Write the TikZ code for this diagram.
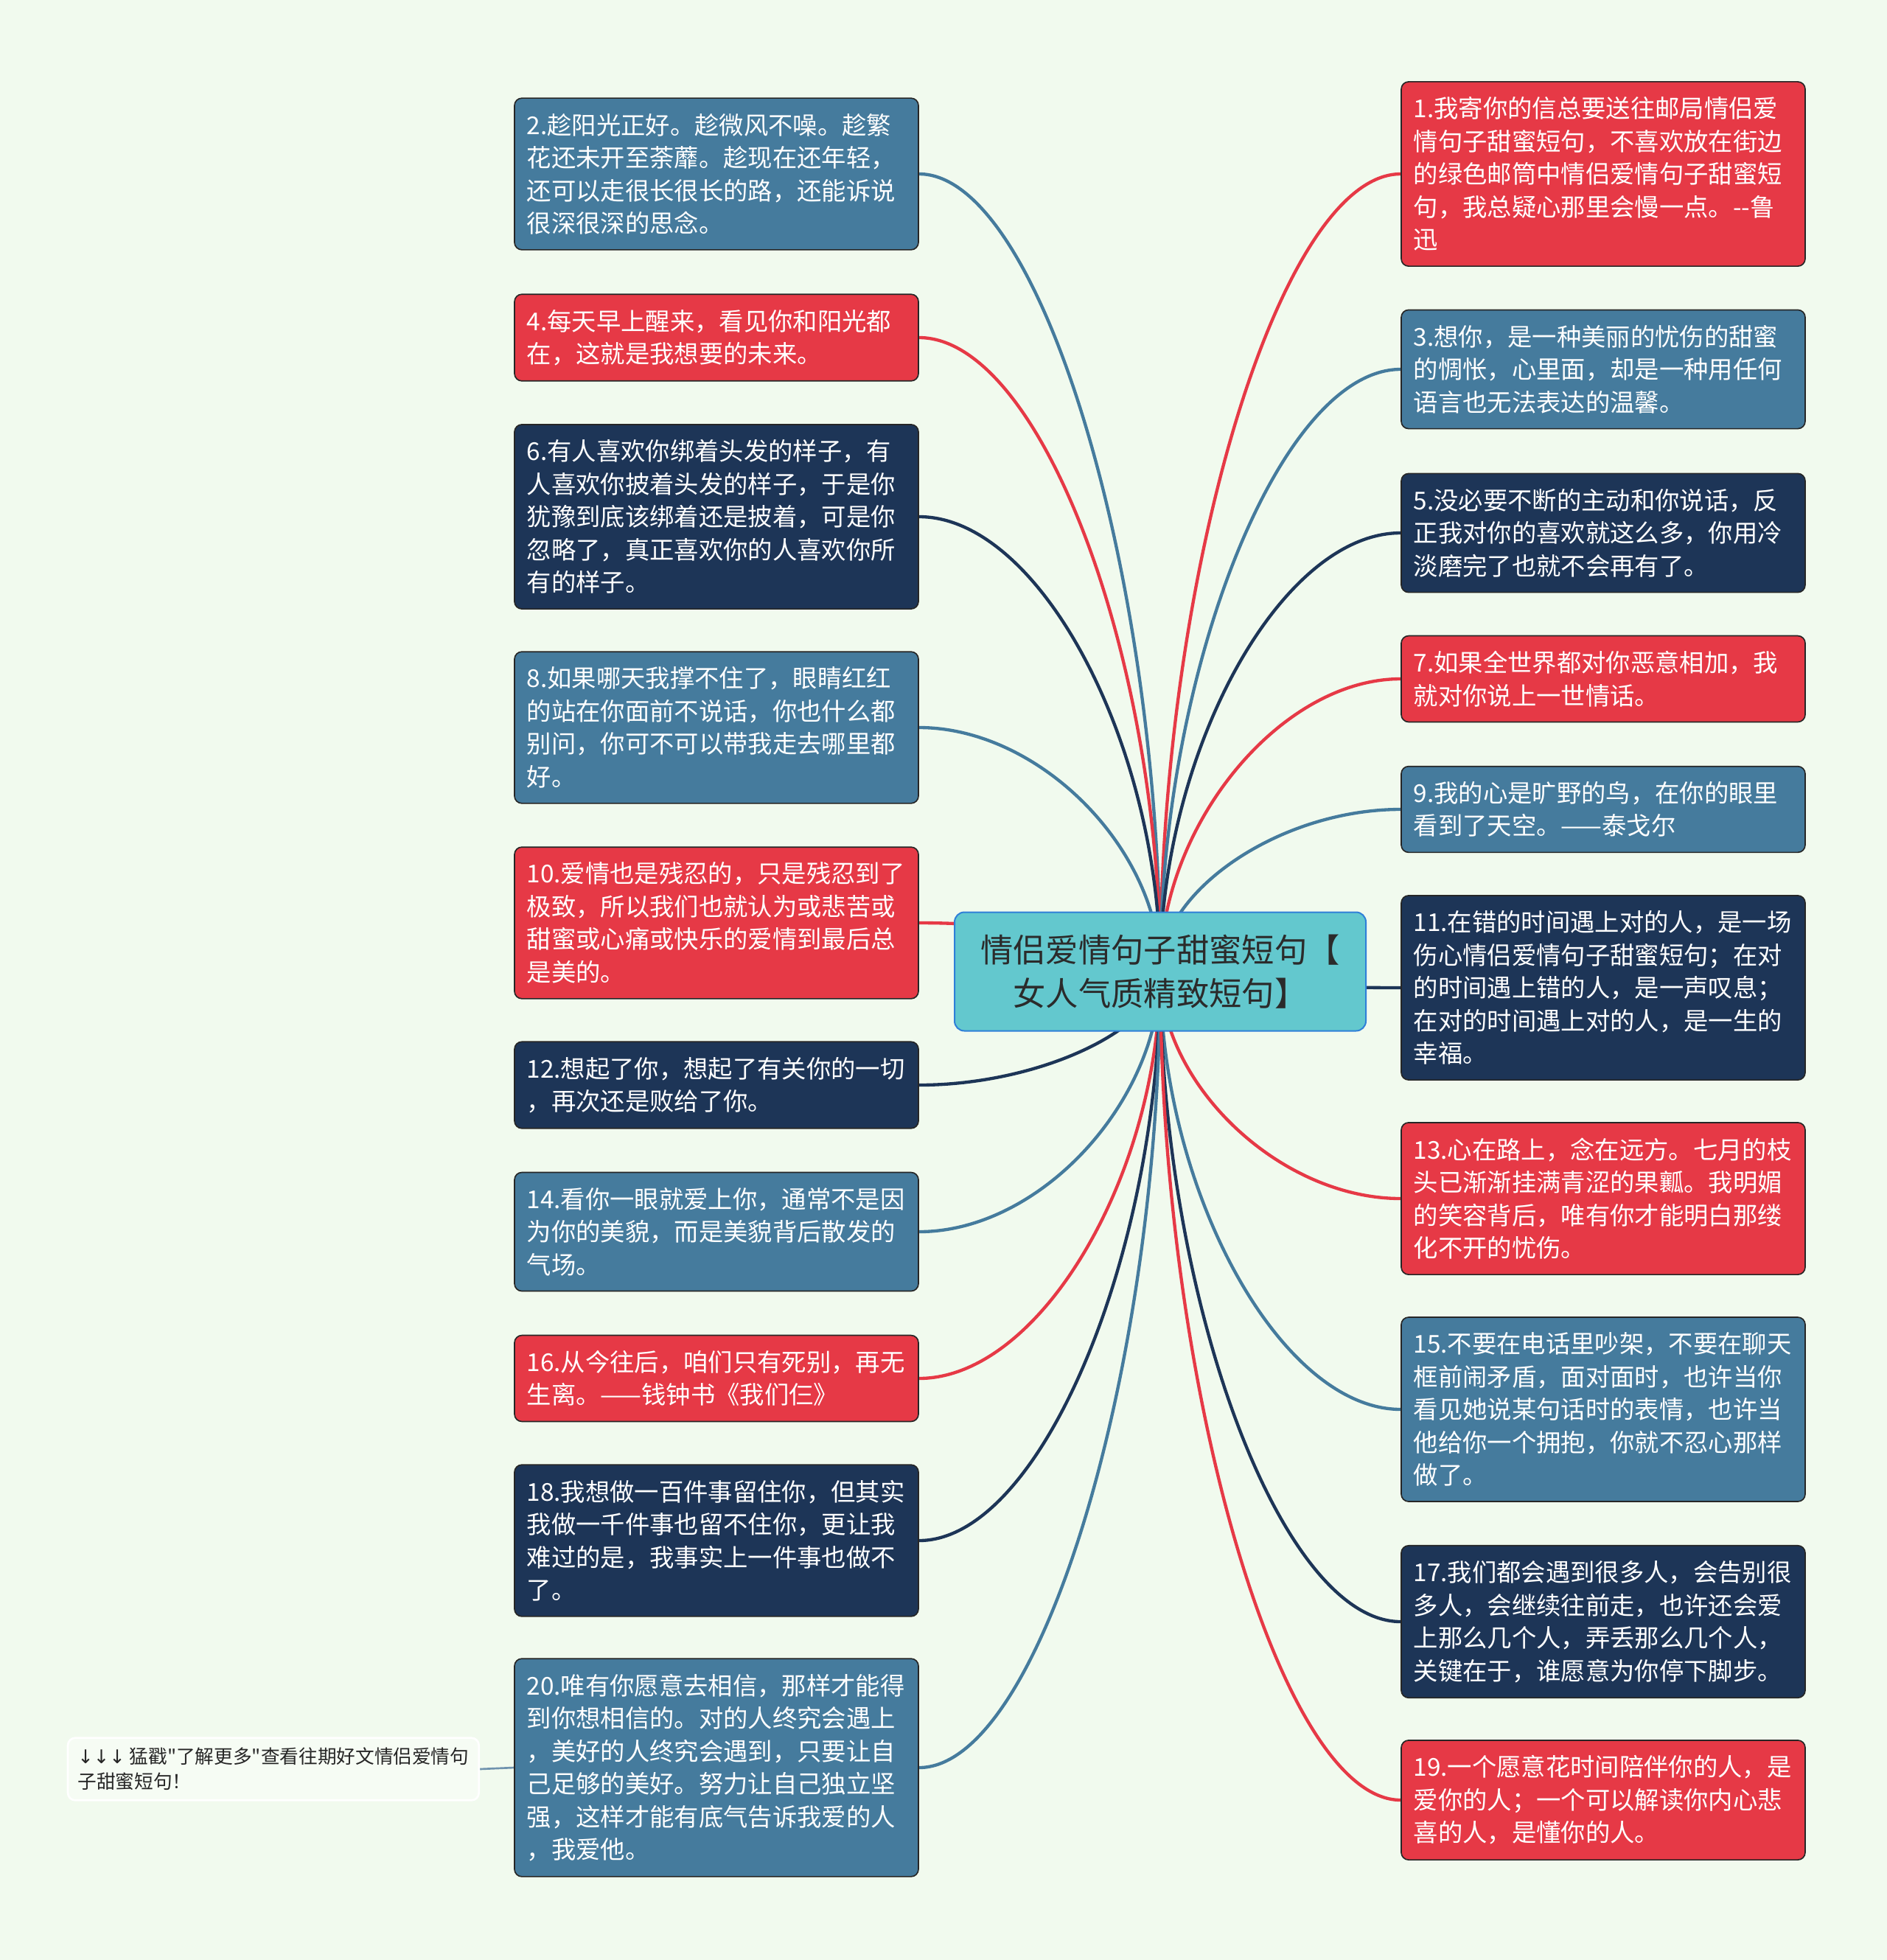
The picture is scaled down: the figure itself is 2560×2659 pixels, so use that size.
\documentclass[tikz,border=0pt]{standalone}
\usepackage{fontspec}
\setmainfont{Noto Sans CJK SC}
\setmonofont{Noto Sans CJK SC}
\newfontfamily\arrowfont{DejaVu Sans}
\usetikzlibrary{calc,backgrounds}
\definecolor{bgmint}{HTML}{F1FAEE}
\definecolor{loveRed}{HTML}{E63946}
\definecolor{loveBlue}{HTML}{457B9D}
\definecolor{loveNavy}{HTML}{1D3557}
\definecolor{hubTeal}{HTML}{63C8CE}
\definecolor{hubEdge}{HTML}{2F7FD8}
\definecolor{hubText}{HTML}{2B2B2B}
\definecolor{noteLine}{HTML}{6F93AE}
\tikzset{
	quotebox/.style={draw=black!85, line width=0.5pt, rounded corners=3pt, fill=#1,
		text=white, text width=154.4pt, align=left, inner xsep=5pt, inner ysep=6.2pt,
		font=\fontsize{10}{13.35}\selectfont},
	hubbox/.style={draw=hubEdge, line width=0.6pt, rounded corners=4pt, fill=hubTeal,
		text=hubText, align=center, minimum width=167.4pt, minimum height=48.3pt,
		font=\fontsize{13.3}{17.8}\selectfont},
	notebox/.style={draw=white, line width=0.8pt, rounded corners=3pt, fill=white!35!bgmint,
		text=black!85, align=left, inner xsep=4pt, inner ysep=4pt,
		font=\ttfamily\fontsize{7.7}{10.2}\selectfont},
	branch/.style={line width=1.3pt, draw=#1},
}
\begin{document}
\begin{tikzpicture}[x=0.3pt,y=0.3pt]
	\useasboundingbox (0,0) rectangle (2560,-2659);
	%Central topic
	\node[hubbox] (hub) at (1574,-1318) {情侣爱情句子甜蜜短句【\\女人气质精致短句】};
	%Left column
	\node[quotebox=loveBlue] (b2) at (972,-236) {2.趁阳光正好。趁微风不噪。趁繁\\花还未开至荼蘼。趁现在还年轻，\\还可以走很长很长的路，还能诉说\\很深很深的思念。};
	\node[quotebox=loveRed] (b4) at (972,-458) {4.每天早上醒来，看见你和阳光都\\在，这就是我想要的未来。};
	\node[quotebox=loveNavy] (b6) at (972,-701) {6.有人喜欢你绑着头发的样子，有\\人喜欢你披着头发的样子，于是你\\犹豫到底该绑着还是披着，可是你\\忽略了，真正喜欢你的人喜欢你所\\有的样子。};
	\node[quotebox=loveBlue] (b8) at (972,-987) {8.如果哪天我撑不住了，眼睛红红\\的站在你面前不说话，你也什么都\\别问，你可不可以带我走去哪里都\\好。};
	\node[quotebox=loveRed] (b10) at (972,-1252) {10.爱情也是残忍的，只是残忍到了\\极致，所以我们也就认为或悲苦或\\甜蜜或心痛或快乐的爱情到最后总\\是美的。};
	\node[quotebox=loveNavy] (b12) at (972,-1472) {12.想起了你，想起了有关你的一切\\，再次还是败给了你。};
	\node[quotebox=loveBlue] (b14) at (972,-1671) {14.看你一眼就爱上你，通常不是因\\为你的美貌，而是美貌背后散发的\\气场。};
	\node[quotebox=loveRed] (b16) at (972,-1870) {16.从今往后，咱们只有死别，再无\\生离。——钱钟书《我们仨》};
	\node[quotebox=loveNavy] (b18) at (972,-2090) {18.我想做一百件事留住你，但其实\\我做一千件事也留不住你，更让我\\难过的是，我事实上一件事也做不\\了。};
	\node[quotebox=loveBlue] (b20) at (972,-2398) {20.唯有你愿意去相信，那样才能得\\到你想相信的。对的人终究会遇上\\，美好的人终究会遇到，只要让自\\己足够的美好。努力让自己独立坚\\强，这样才能有底气告诉我爱的人\\，我爱他。};
	%Right column
	\node[quotebox=loveRed] (b1) at (2175,-236) {1.我寄你的信总要送往邮局情侣爱\\情句子甜蜜短句，不喜欢放在街边\\的绿色邮筒中情侣爱情句子甜蜜短\\句，我总疑心那里会慢一点。-{}-鲁\\迅};
	\node[quotebox=loveBlue] (b3) at (2175,-501) {3.想你，是一种美丽的忧伤的甜蜜\\的惆怅，心里面，却是一种用任何\\语言也无法表达的温馨。};
	\node[quotebox=loveNavy] (b5) at (2175,-723) {5.没必要不断的主动和你说话，反\\正我对你的喜欢就这么多，你用冷\\淡磨完了也就不会再有了。};
	\node[quotebox=loveRed] (b7) at (2175,-921) {7.如果全世界都对你恶意相加，我\\就对你说上一世情话。};
	\node[quotebox=loveBlue] (b9) at (2175,-1098) {9.我的心是旷野的鸟，在你的眼里\\看到了天空。——泰戈尔};
	\node[quotebox=loveNavy] (b11) at (2175,-1340) {11.在错的时间遇上对的人，是一场\\伤心情侣爱情句子甜蜜短句；在对\\的时间遇上错的人，是一声叹息；\\在对的时间遇上对的人，是一生的\\幸福。};
	\node[quotebox=loveRed] (b13) at (2175,-1626) {13.心在路上，念在远方。七月的枝\\头已渐渐挂满青涩的果瓤。我明媚\\的笑容背后，唯有你才能明白那缕\\化不开的忧伤。};
	\node[quotebox=loveBlue] (b15) at (2175,-1912) {15.不要在电话里吵架，不要在聊天\\框前闹矛盾，面对面时，也许当你\\看见她说某句话时的表情，也许当\\他给你一个拥抱，你就不忍心那样\\做了。};
	\node[quotebox=loveNavy] (b17) at (2175,-2200) {17.我们都会遇到很多人，会告别很\\多人，会继续往前走，也许还会爱\\上那么几个人，弄丢那么几个人，\\关键在于，谁愿意为你停下脚步。};
	\node[quotebox=loveRed] (b19) at (2175,-2442) {19.一个愿意花时间陪伴你的人，是\\爱你的人；一个可以解读你内心悲\\喜的人，是懂你的人。};
	%Side note
	\node[notebox, anchor=east] (note) at (651,-2400) {{\arrowfont ↓↓↓} 猛戳"了解更多"查看往期好文情侣爱情句\\子甜蜜短句！};
	%Branches, under the boxes
	\begin{scope}[on background layer]
		\fill[bgmint] (0,0) rectangle (2560,-2659);
		\foreach \b/\c/\a in {b2/loveBlue/east, b4/loveRed/east, b6/loveNavy/east,
			b8/loveBlue/east, b10/loveRed/east, b12/loveNavy/east, b14/loveBlue/east,
			b16/loveRed/east, b18/loveNavy/east, b20/loveBlue/east,
			b1/loveRed/west, b3/loveBlue/west, b5/loveNavy/west, b7/loveRed/west,
			b9/loveBlue/west, b11/loveNavy/west, b13/loveRed/west, b15/loveBlue/west,
			b17/loveNavy/west, b19/loveRed/west}
		\draw[branch=\c] (hub.center) .. controls ($(hub.center)!0.5!(hub.center |- \b.\a)$) and ($(\b.\a)!0.5!(hub.center |- \b.\a)$) .. (\b.\a);
		\draw[noteLine, line width=0.8pt] (b20.west) -- (note.east);
	\end{scope}
\end{tikzpicture}
\end{document}
